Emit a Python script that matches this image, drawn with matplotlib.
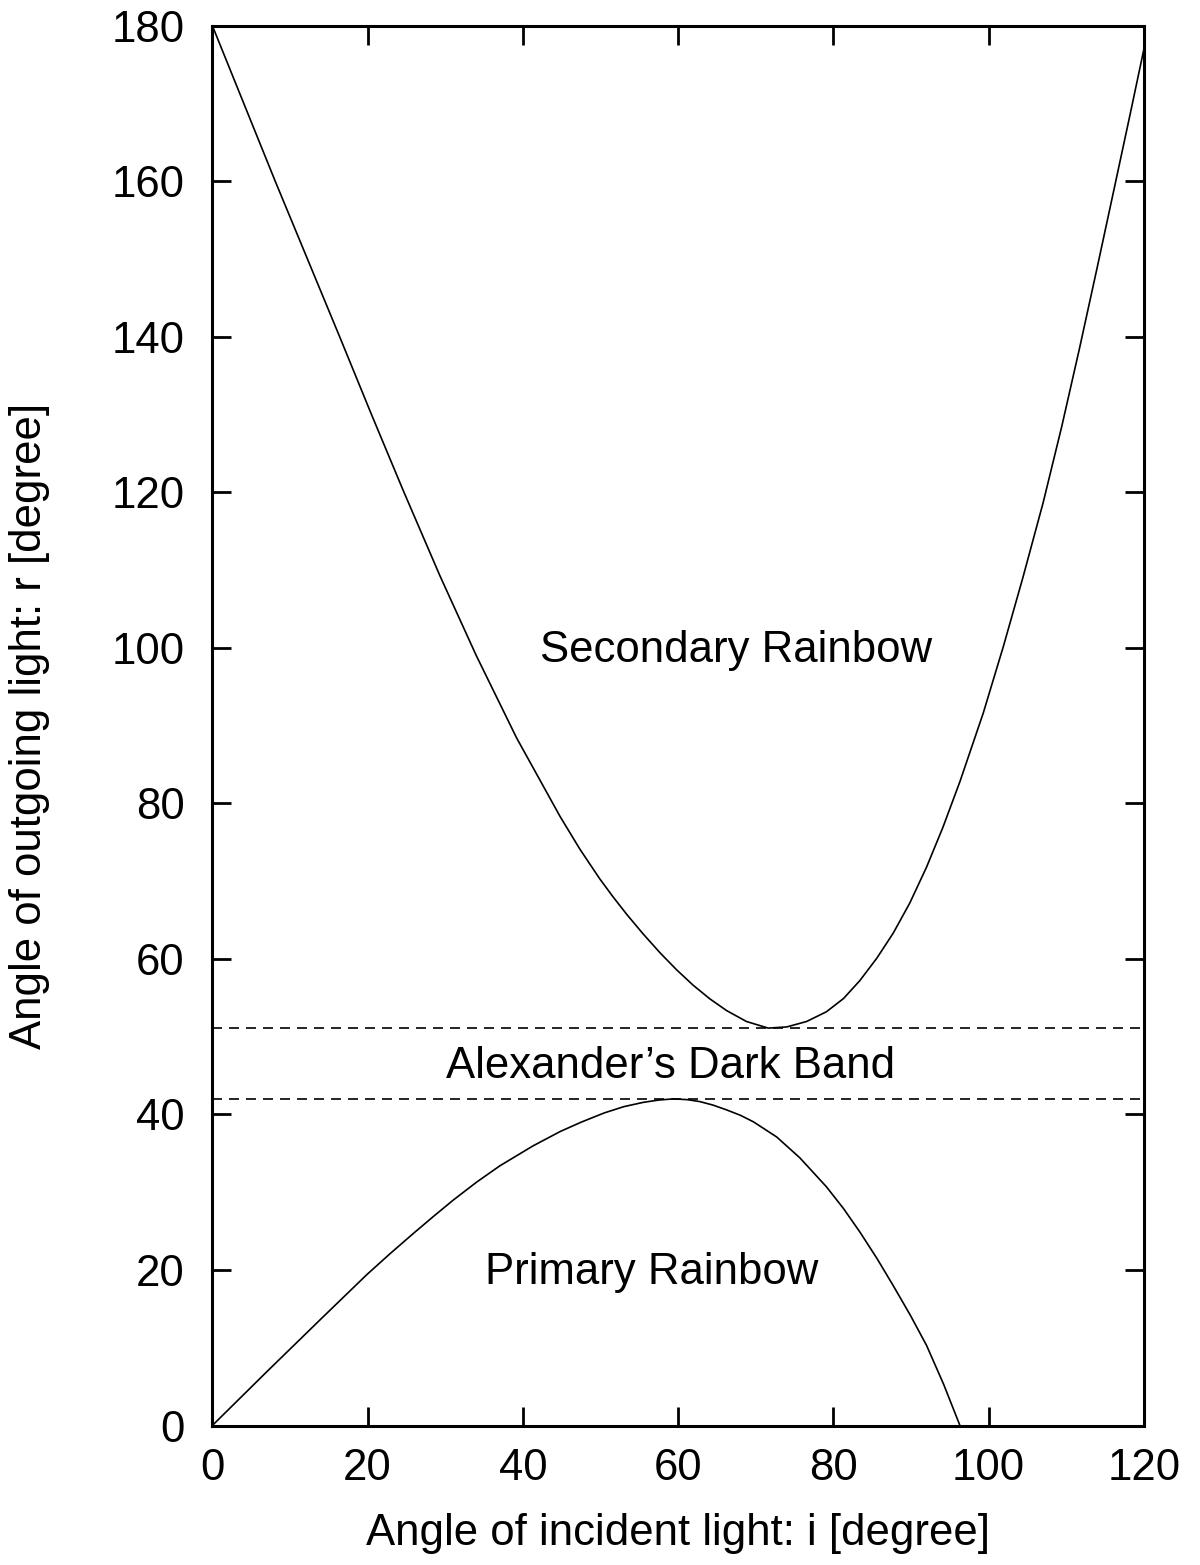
import matplotlib.pyplot as plt

plt.rcParams['font.family'] = ['Liberation Sans', 'DejaVu Sans']

# curve readings (angle of incident light, angle of outgoing light)
primary_x = [0, 7.0, 14.3, 19.9, 22.9, 25.9, 28.5, 31.05, 34.05, 37.05, 41.3,
             44.8, 47.5, 50.5, 53.0, 55.5, 57.5, 59.4, 61.2, 62.8, 64.5, 66.2,
             68.0, 69.7, 72.7, 75.7, 79.1, 81.3, 83.4, 85.6, 87.7, 89.9, 92.0,
             94.2, 96.3]
primary_y = [0, 6.9, 14.0, 19.4, 22.1, 24.7, 26.9, 29.0, 31.3, 33.4, 35.95,
             37.8, 39.0, 40.2, 41.0, 41.55, 41.85, 42.0, 41.9, 41.65, 41.2, 40.6,
             39.9, 39.05, 37.1, 34.4, 30.7, 27.9, 24.9, 21.5, 18.0, 14.2, 10.3,
             5.3, 0]

secondary_x = [0, 8.1, 16.4, 20.5, 24.6, 29.3, 34.0, 39.2, 44.8, 47.35, 49.9,
               51.6, 53.4, 55.5, 57.7, 59.8, 61.95, 64.1, 66.25, 68.8, 71.6,
               74.0, 76.55, 79.1, 81.3, 83.4, 85.6, 87.7, 89.85, 92.0, 94.1,
               96.3, 99.3, 101.9, 104.4, 107.0, 109.4, 111.7, 114.0, 116.2,
               118.2, 120]
secondary_y = [180, 160, 140, 130.0, 120.2, 109.3, 99.0, 88.4, 78.3, 74.1, 70.3,
               68.0, 65.7, 63.2, 60.75, 58.6, 56.6, 54.85, 53.35, 51.95, 51.1,
               51.25, 51.95, 53.2, 54.9, 57.2, 60.1, 63.3, 67.2, 71.8, 76.9,
               82.8, 91.6, 100.2, 109.0, 118.6, 128.4, 138.5, 149.0, 159.2,
               168.5, 177]

band_levels = [51.1, 42.0]

labels = ["Secondary Rainbow", "Alexander\u2019s Dark Band", "Primary Rainbow"]
label_x = [67.4, 59.0, 56.6]
label_y = [98.2, 44.7, 18.2]

fig = plt.figure(figsize=(12, 15.65), dpi=100)
ax = fig.add_axes([0.1769, 0.0891, 0.9533 - 0.1769, 0.9837 - 0.0891])

ax.plot(primary_x, primary_y, color='black', lw=1.2)
ax.plot(secondary_x, secondary_y, color='black', lw=1.2)
for lev in band_levels:
    ax.axhline(lev, color='black', lw=1.2, dashes=(6.0, 4.2))

for txt, tx, ty in zip(labels, label_x, label_y):
    ax.text(tx, ty, txt, ha='center', va='baseline', fontsize=31.5)

ax.set_xlim(0, 120)
ax.set_ylim(0, 180)
ax.set_xticks(range(0, 121, 20))
ax.set_yticks(range(0, 181, 20))
ax.tick_params(direction='in', length=13.7, width=2.0, labelsize=31.5,
               top=True, right=True)
ax.tick_params(axis='x', pad=16)
ax.tick_params(axis='y', pad=20)
for sp in ax.spines.values():
    sp.set_linewidth(2.2)

ax.set_xlabel("Angle of incident light: i [degree]", fontsize=31.5)
ax.set_ylabel("Angle of outgoing light: r [degree]", fontsize=31.5)
ax.xaxis.set_label_coords(0.5, -0.0625)
ax.yaxis.set_label_coords(-0.174, 0.5)

fig.savefig("out.png", dpi=100)
